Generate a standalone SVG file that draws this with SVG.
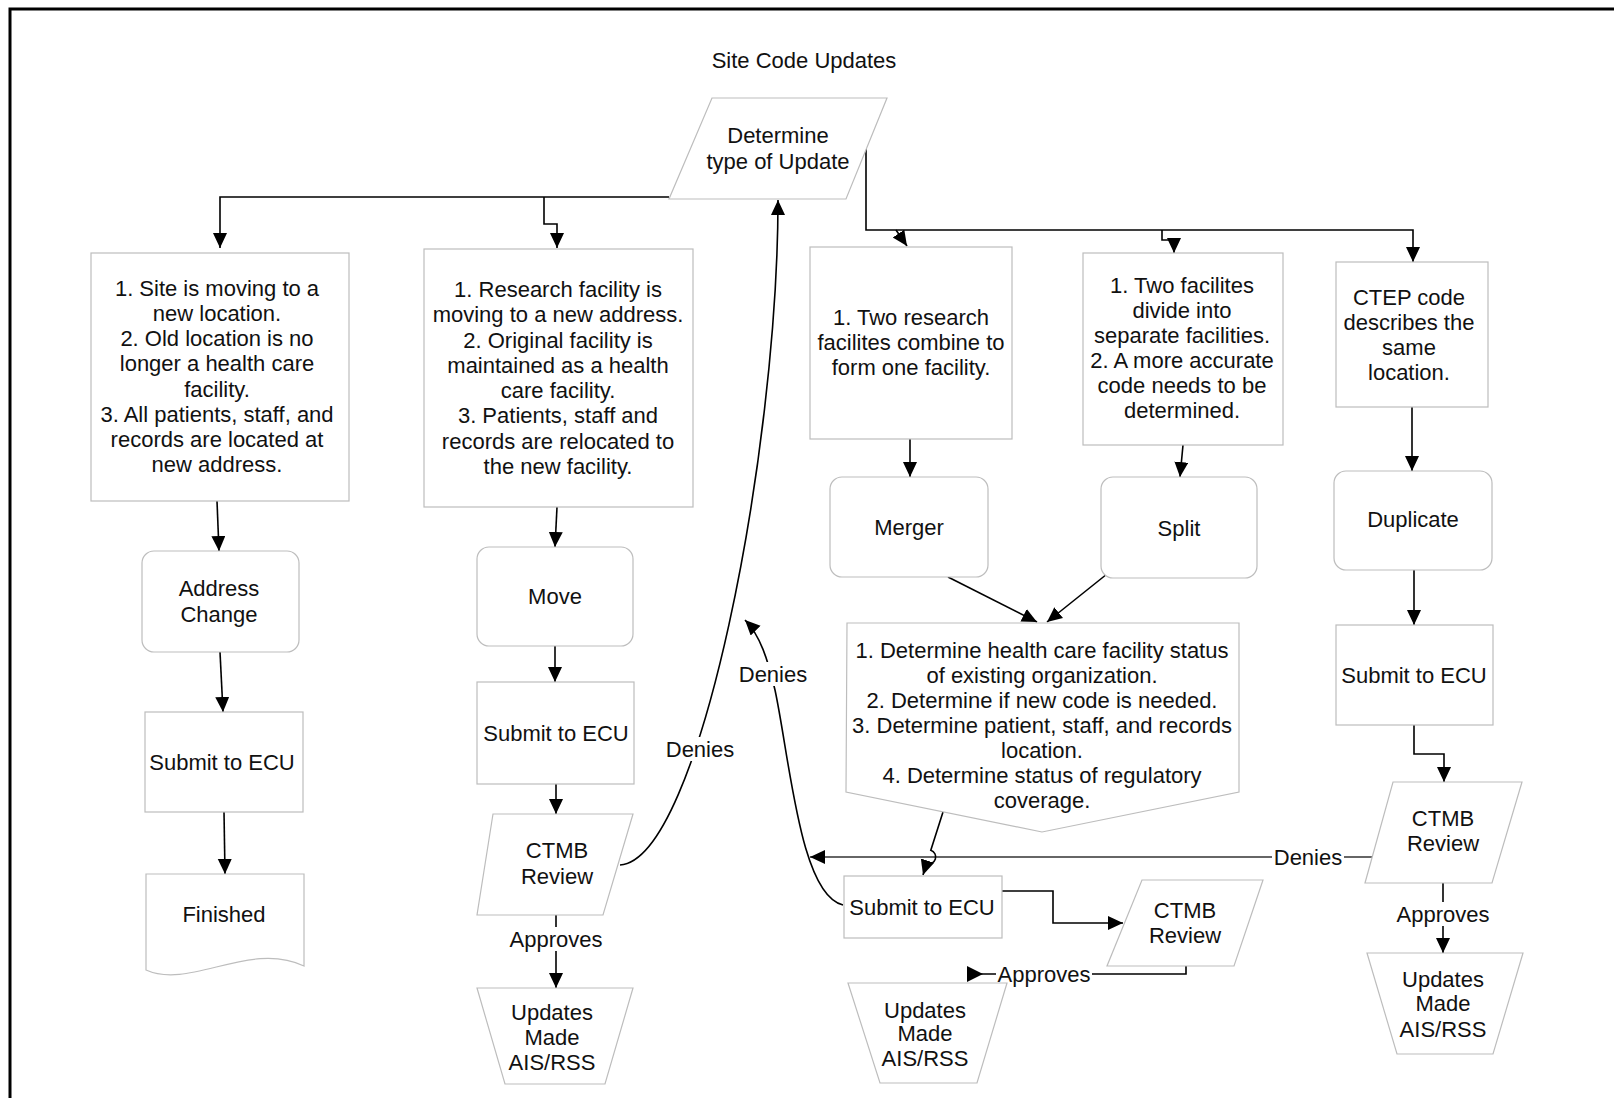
<svg xmlns="http://www.w3.org/2000/svg" width="1614" height="1098" viewBox="0 0 1614 1098">
<defs>
<style>
.n{fill:#fff;stroke:#bdbdbd;stroke-width:1.2}
.c{fill:none;stroke:#000;stroke-width:1.6}
.g{fill:none;stroke:#666;stroke-width:2}
.t{font-family:"Liberation Sans",Arial,sans-serif;font-size:22px;fill:#111;text-anchor:middle}
.bg{fill:#fff;stroke:none}
</style>
<marker id="ah" markerUnits="userSpaceOnUse" markerWidth="16" markerHeight="16" refX="15" refY="7" orient="auto"><path d="M0,0 L15,7 L0,14 z" fill="#000"/></marker>
</defs>
<rect x="0" y="0" width="1614" height="1098" fill="#fff"/>
<path d="M10,1100 V9 H1620" fill="none" stroke="#000" stroke-width="3"/>
<text class="t" x="804" y="68">Site Code Updates</text>

<g id="connectors">
<path class="c" d="M669,197 H220 V248" marker-end="url(#ah)"/>
<path class="c" d="M544,197 V224 H557 V248" marker-end="url(#ah)"/>
<path class="c" d="M866,148 V230 H1413 V262" marker-end="url(#ah)"/>
<path class="c" d="M896,230 L907,246" marker-end="url(#ah)"/>
<path class="c" d="M1162,230 V240 H1174 V253" marker-end="url(#ah)"/>
<path class="c" d="M217,501 L219,551" marker-end="url(#ah)"/>
<path class="c" d="M220,652 L223,712" marker-end="url(#ah)"/>
<path class="c" d="M224,812 L225,874" marker-end="url(#ah)"/>
<path class="c" d="M557,507 L555,547" marker-end="url(#ah)"/>
<path class="c" d="M555,646 V682" marker-end="url(#ah)"/>
<path class="c" d="M556,784 V814" marker-end="url(#ah)"/>
<path class="c" d="M556,915 V988" marker-end="url(#ah)"/>
<path class="c" d="M620,865 C700,860 778,450 778,200" marker-end="url(#ah)"/>
<path class="c" d="M843,905 C800,895 790,760 775,690 C768,660 760,635 745,620" marker-end="url(#ah)"/>
<path class="c" d="M910,439 V477" marker-end="url(#ah)"/>
<path class="c" d="M1183,445 L1180,477" marker-end="url(#ah)"/>
<path class="c" d="M948,577 L1037,622" marker-end="url(#ah)"/>
<path class="c" d="M1107,574 L1047,622" marker-end="url(#ah)"/>
<path class="g" d="M1372,857 H810" marker-end="url(#ah)"/>
<path class="c" d="M943,812 L930.8,850.3 A7,7 0 0 1 926.6,863.7 L923,875" marker-end="url(#ah)"/>
<path class="c" d="M1002,891 H1053 V923 H1123" marker-end="url(#ah)"/>
<path class="c" d="M1186,966 V974 H967"/>
<polygon points="967,966 983,974 967,982" fill="#000"/>
<path class="c" d="M1412,407 V471" marker-end="url(#ah)"/>
<path class="c" d="M1414,570 V625" marker-end="url(#ah)"/>
<path class="c" d="M1414,725 V754 H1444 V782" marker-end="url(#ah)"/>
<path class="c" d="M1443,883 V953" marker-end="url(#ah)"/>
<rect class="bg" x="511" y="927" width="90" height="24"/>
<text class="t" x="556" y="947">Approves</text>
<rect class="bg" x="664" y="737" width="72" height="24"/>
<text class="t" x="700" y="757">Denies</text>
<rect class="bg" x="737" y="662" width="72" height="24"/>
<text class="t" x="773" y="682">Denies</text>
<rect class="bg" x="1272" y="845" width="72" height="24"/>
<text class="t" x="1308" y="865">Denies</text>
<rect class="bg" x="996" y="962" width="96" height="24"/>
<text class="t" x="1044" y="982">Approves</text>
<rect class="bg" x="1397" y="902" width="92" height="24"/>
<text class="t" x="1443" y="922">Approves</text>
</g>

<g id="determine">
<polygon class="n" points="712,98 887,98 846,199 669,199"/>
<text class="t" x="778" y="143">Determine</text>
<text class="t" x="778" y="169">type of Update</text>
</g>

<g id="box1">
<rect class="n" x="91" y="253" width="258" height="248"/>
<text class="t" x="217" y="296">1. Site is moving to a</text>
<text class="t" x="217" y="321">new location.</text>
<text class="t" x="217" y="346">2. Old location is no</text>
<text class="t" x="217" y="371">longer a health care</text>
<text class="t" x="217" y="397">facility.</text>
<text class="t" x="217" y="422">3. All patients, staff, and</text>
<text class="t" x="217" y="447">records are located at</text>
<text class="t" x="217" y="472">new address.</text>
</g>

<g id="box2">
<rect class="n" x="424" y="249" width="269" height="258"/>
<text class="t" x="558" y="297">1. Research facility is</text>
<text class="t" x="558" y="322">moving to a new address.</text>
<text class="t" x="558" y="348">2. Original facility is</text>
<text class="t" x="558" y="373">maintained as a health</text>
<text class="t" x="558" y="398">care facility.</text>
<text class="t" x="558" y="423">3. Patients, staff and</text>
<text class="t" x="558" y="449">records are relocated to</text>
<text class="t" x="558" y="474">the new facility.</text>
</g>

<g id="box3">
<rect class="n" x="810" y="247" width="202" height="192"/>
<text class="t" x="911" y="325">1. Two research</text>
<text class="t" x="911" y="350">facilites combine to</text>
<text class="t" x="911" y="375">form one facility.</text>
</g>

<g id="box4">
<rect class="n" x="1083" y="253" width="200" height="192"/>
<text class="t" x="1182" y="293">1. Two facilites</text>
<text class="t" x="1182" y="318">divide into</text>
<text class="t" x="1182" y="343">separate facilities.</text>
<text class="t" x="1182" y="368">2. A more accurate</text>
<text class="t" x="1182" y="393">code needs to be</text>
<text class="t" x="1182" y="418">determined.</text>
</g>

<g id="box5">
<rect class="n" x="1336" y="262" width="152" height="145"/>
<text class="t" x="1409" y="305">CTEP code</text>
<text class="t" x="1409" y="330">describes the</text>
<text class="t" x="1409" y="355">same</text>
<text class="t" x="1409" y="380">location.</text>
</g>

<g id="address-change">
<rect class="n" x="142" y="551" width="157" height="101" rx="12"/>
<text class="t" x="219" y="596">Address</text>
<text class="t" x="219" y="622">Change</text>
</g>

<g id="submit1">
<rect class="n" x="145" y="712" width="158" height="100"/>
<text class="t" x="222" y="770">Submit to ECU</text>
</g>

<g id="finished">
<path class="n" d="M146,874 H304 V966 C250,940 190,990 146,970 Z"/>
<text class="t" x="224" y="922">Finished</text>
</g>

<g id="move">
<rect class="n" x="477" y="547" width="156" height="99" rx="12"/>
<text class="t" x="555" y="604">Move</text>
</g>

<g id="submit2">
<rect class="n" x="477" y="682" width="157" height="102"/>
<text class="t" x="556" y="741">Submit to ECU</text>
</g>

<g id="ctmb1">
<polygon class="n" points="493,814 633,814 603,915 477,915"/>
<text class="t" x="557" y="858">CTMB</text>
<text class="t" x="557" y="884">Review</text>
</g>

<g id="updates1">
<polygon class="n" points="477,988 633,988 605,1084 505,1084"/>
<text class="t" x="552" y="1020">Updates</text>
<text class="t" x="552" y="1045">Made</text>
<text class="t" x="552" y="1070">AIS/RSS</text>
</g>

<g id="merger">
<rect class="n" x="830" y="477" width="158" height="100" rx="12"/>
<text class="t" x="909" y="535">Merger</text>
</g>

<g id="split">
<rect class="n" x="1101" y="477" width="156" height="101" rx="12"/>
<text class="t" x="1179" y="536">Split</text>
</g>

<g id="determine-status">
<path class="n" d="M847,623 H1239 V792 L1042,832 L846,792 Z"/>
<text class="t" x="1042" y="658">1. Determine health care facility status</text>
<text class="t" x="1042" y="683">of existing organization.</text>
<text class="t" x="1042" y="708">2. Determine if new code is needed.</text>
<text class="t" x="1042" y="733">3. Determine patient, staff, and records</text>
<text class="t" x="1042" y="758">location.</text>
<text class="t" x="1042" y="783">4. Determine status of regulatory</text>
<text class="t" x="1042" y="808">coverage.</text>
</g>

<g id="submit3">
<rect class="n" x="844" y="876" width="158" height="62"/>
<text class="t" x="922" y="915">Submit to ECU</text>
</g>

<g id="ctmb2">
<polygon class="n" points="1142,880 1263,880 1234,966 1107,966"/>
<text class="t" x="1185" y="918">CTMB</text>
<text class="t" x="1185" y="943">Review</text>
</g>

<g id="updates2">
<polygon class="n" points="848,983 1007,983 977,1083 880,1083"/>
<text class="t" x="925" y="1018">Updates</text>
<text class="t" x="925" y="1041">Made</text>
<text class="t" x="925" y="1066">AIS/RSS</text>
</g>

<g id="duplicate">
<rect class="n" x="1334" y="471" width="158" height="99" rx="12"/>
<text class="t" x="1413" y="527">Duplicate</text>
</g>

<g id="submit4">
<rect class="n" x="1336" y="625" width="157" height="100"/>
<text class="t" x="1414" y="683">Submit to ECU</text>
</g>

<g id="ctmb3">
<polygon class="n" points="1393,782 1522,782 1492,883 1365,883"/>
<text class="t" x="1443" y="826">CTMB</text>
<text class="t" x="1443" y="851">Review</text>
</g>

<g id="updates3">
<polygon class="n" points="1367,953 1523,953 1493,1054 1397,1054"/>
<text class="t" x="1443" y="987">Updates</text>
<text class="t" x="1443" y="1011">Made</text>
<text class="t" x="1443" y="1037">AIS/RSS</text>
</g>
</svg>
